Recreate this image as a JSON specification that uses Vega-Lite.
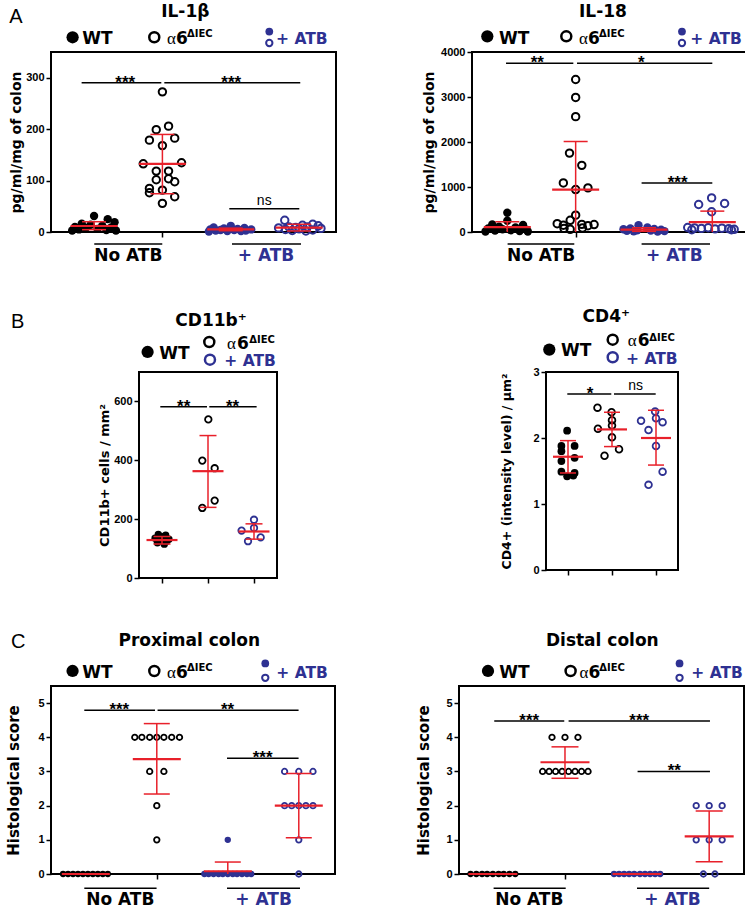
{
"$schema": "https://vega.github.io/schema/vega-lite/v6.json",
"padding": {"left": 5, "top": 2, "right": 0, "bottom": 0},
"config": {
 "font": "DejaVu Sans",
 "view": {"stroke": "black", "strokeWidth": 2},
 "axis": {"grid": false, "domain": false, "tickColor": "black", "tickWidth": 1.5, "tickSize": 5, "labelFont": "Liberation Sans", "labelFontWeight": "bold", "labelFontSize": 11, "labelColor": "black", "labelPadding": 2, "titleFont": "DejaVu Sans", "titleFontWeight": "bold", "titleColor": "black", "labelFlush": false, "labelOverlap": false, "format": "d"},
 "point": {"opacity": 1},
 "tick": {"opacity": 1},
 "style": {
  "ttl": {"font": "DejaVu Sans", "fontWeight": "bold", "fontSize": 17, "align": "center", "baseline": "alphabetic"},
  "lg": {"font": "DejaVu Sans", "fontWeight": "bold", "fontSize": 17, "align": "left", "baseline": "alphabetic"},
  "lgb": {"font": "DejaVu Sans", "fontWeight": "bold", "fontSize": 15.5, "align": "left", "baseline": "alphabetic"},
  "al": {"font": "Liberation Serif", "fontWeight": "normal", "fontSize": 17, "align": "left", "baseline": "alphabetic"},
  "sup": {"font": "DejaVu Sans", "fontWeight": "bold", "fontSize": 10, "align": "left", "baseline": "alphabetic"},
  "st": {"font": "Liberation Sans", "fontWeight": "bold", "fontSize": 17, "align": "center", "baseline": "alphabetic", "dy": 5},
  "ns": {"font": "Liberation Sans", "fontWeight": "normal", "fontSize": 14, "align": "center", "baseline": "alphabetic", "dy": -4},
  "gl": {"font": "DejaVu Sans", "fontWeight": "bold", "fontSize": 17, "align": "center", "baseline": "alphabetic"},
  "let": {"font": "Liberation Sans", "fontWeight": "normal", "fontSize": 20, "align": "left", "baseline": "alphabetic"}
 }
},
"datasets": {
 "sig": [
  {"p":"IL1b","x1":0.818,"x2":1.984,"y":290,"xm":1.457,"t":"***"},
  {"p":"IL1b","x1":2.028,"x2":4.017,"y":290,"xm":3.008,"t":"***"},
  {"p":"IL1b","x1":2.979,"x2":4.003,"y":45,"xm":3.49,"t":"ns"},
  {"p":"IL18","x1":0.981,"x2":1.966,"y":3750,"xm":1.439,"t":"**"},
  {"p":"IL18","x1":2.02,"x2":4.0,"y":3750,"xm":2.961,"t":"*"},
  {"p":"IL18","x1":2.965,"x2":4.0,"y":1090,"xm":3.492,"t":"***"},
  {"p":"CD11b","x1":0.963,"x2":1.978,"y":582,"xm":1.47,"t":"**"},
  {"p":"CD11b","x1":2.028,"x2":3.057,"y":582,"xm":2.535,"t":"**"},
  {"p":"CD4","x1":0.984,"x2":1.984,"y":2.665,"xm":1.5,"t":"*"},
  {"p":"CD4","x1":2.045,"x2":2.993,"y":2.665,"xm":2.539,"t":"ns"},
  {"p":"prox","x1":0.979,"x2":1.975,"y":4.79,"xm":1.472,"t":"***"},
  {"p":"prox","x1":2.011,"x2":3.997,"y":4.79,"xm":2.997,"t":"**"},
  {"p":"prox","x1":2.989,"x2":3.997,"y":3.385,"xm":3.49,"t":"***"},
  {"p":"dist","x1":1.019,"x2":1.99,"y":4.476,"xm":1.505,"t":"***"},
  {"p":"dist","x1":2.05,"x2":4.011,"y":4.476,"xm":3.03,"t":"***"},
  {"p":"dist","x1":3.007,"x2":4.011,"y":3.0,"xm":3.516,"t":"**"}
 ],
 "sum": [
  {"p":"IL1b","g":"WT","x":1,"m":11.7,"lo":4.5,"hi":20},
  {"p":"IL1b","g":"α6ΔIEC","x":2,"m":132.6,"lo":74.4,"hi":189.7},
  {"p":"IL1b","g":"WT+ATB","x":3,"m":5,"lo":2.5,"hi":7.5},
  {"p":"IL1b","g":"α6ΔIEC+ATB","x":4,"m":8.4,"lo":2,"hi":15},
  {"p":"IL18","g":"WT","x":1,"m":110,"lo":0,"hi":228},
  {"p":"IL18","g":"α6ΔIEC","x":2,"m":943,"lo":0,"hi":2011},
  {"p":"IL18","g":"WT+ATB","x":3,"m":55,"lo":15,"hi":95},
  {"p":"IL18","g":"α6ΔIEC+ATB","x":4,"m":221,"lo":0,"hi":464},
  {"p":"CD11b","g":"WT","x":1,"m":129,"lo":115.5,"hi":141},
  {"p":"CD11b","g":"α6ΔIEC","x":2,"m":363,"lo":240,"hi":484},
  {"p":"CD11b","g":"α6ΔIEC+ATB","x":3,"m":158,"lo":132,"hi":184},
  {"p":"CD4","g":"WT","x":1,"m":1.716,"lo":1.47,"hi":1.96},
  {"p":"CD4","g":"α6ΔIEC","x":2,"m":2.13,"lo":1.87,"hi":2.39},
  {"p":"CD4","g":"α6ΔIEC+ATB","x":3,"m":2.0,"lo":1.59,"hi":2.42},
  {"p":"prox","g":"WT","x":1,"m":0,"lo":0,"hi":0},
  {"p":"prox","g":"α6ΔIEC","x":2,"m":3.36,"lo":2.34,"hi":4.4},
  {"p":"prox","g":"WT+ATB","x":3,"m":0.08,"lo":0,"hi":0.35},
  {"p":"prox","g":"α6ΔIEC+ATB","x":4,"m":2.0,"lo":1.06,"hi":2.94},
  {"p":"dist","g":"WT","x":1,"m":0,"lo":0,"hi":0},
  {"p":"dist","g":"α6ΔIEC","x":2,"m":3.27,"lo":2.8,"hi":3.72},
  {"p":"dist","g":"WT+ATB","x":3,"m":0,"lo":0,"hi":0},
  {"p":"dist","g":"α6ΔIEC+ATB","x":4,"m":1.1,"lo":0.36,"hi":1.84}
 ],
 "pts": [
  {"p":"IL1b","g":"WT","x":1.0,"v":31},{"p":"IL1b","g":"WT","x":1.2,"v":25},{"p":"IL1b","g":"WT","x":1.3,"v":19},{"p":"IL1b","g":"WT","x":0.82,"v":16},{"p":"IL1b","g":"WT","x":0.95,"v":14},{"p":"IL1b","g":"WT","x":1.12,"v":12},{"p":"IL1b","g":"WT","x":0.72,"v":10},{"p":"IL1b","g":"WT","x":1.25,"v":9},{"p":"IL1b","g":"WT","x":0.88,"v":8},{"p":"IL1b","g":"WT","x":1.05,"v":6},{"p":"IL1b","g":"WT","x":0.78,"v":5},{"p":"IL1b","g":"WT","x":1.18,"v":4},{"p":"IL1b","g":"WT","x":0.68,"v":3},{"p":"IL1b","g":"WT","x":1.32,"v":3},
  {"p":"IL1b","g":"α6ΔIEC","x":2.0,"v":272.5},{"p":"IL1b","g":"α6ΔIEC","x":2.09,"v":205.8},{"p":"IL1b","g":"α6ΔIEC","x":1.91,"v":199},{"p":"IL1b","g":"α6ΔIEC","x":1.81,"v":178.6},{"p":"IL1b","g":"α6ΔIEC","x":2.18,"v":182.5},{"p":"IL1b","g":"α6ΔIEC","x":2.0,"v":168},{"p":"IL1b","g":"α6ΔIEC","x":1.72,"v":132.6},{"p":"IL1b","g":"α6ΔIEC","x":2.28,"v":134.6},{"p":"IL1b","g":"α6ΔIEC","x":1.91,"v":118.4},{"p":"IL1b","g":"α6ΔIEC","x":2.09,"v":118.4},{"p":"IL1b","g":"α6ΔIEC","x":1.91,"v":101.6},{"p":"IL1b","g":"α6ΔIEC","x":2.09,"v":103.5},{"p":"IL1b","g":"α6ΔIEC","x":2.18,"v":97.7},{"p":"IL1b","g":"α6ΔIEC","x":1.81,"v":84.8},{"p":"IL1b","g":"α6ΔIEC","x":1.81,"v":76.3},{"p":"IL1b","g":"α6ΔIEC","x":2.0,"v":81.5},{"p":"IL1b","g":"α6ΔIEC","x":2.18,"v":68.5},{"p":"IL1b","g":"α6ΔIEC","x":2.0,"v":55.7},
  {"p":"IL1b","g":"WT+ATB","x":3.0,"v":12},{"p":"IL1b","g":"WT+ATB","x":2.75,"v":9},{"p":"IL1b","g":"WT+ATB","x":3.2,"v":8},{"p":"IL1b","g":"WT+ATB","x":2.9,"v":7},{"p":"IL1b","g":"WT+ATB","x":3.1,"v":6},{"p":"IL1b","g":"WT+ATB","x":2.7,"v":5},{"p":"IL1b","g":"WT+ATB","x":3.3,"v":5},{"p":"IL1b","g":"WT+ATB","x":2.85,"v":4},{"p":"IL1b","g":"WT+ATB","x":3.05,"v":4},{"p":"IL1b","g":"WT+ATB","x":2.78,"v":3},{"p":"IL1b","g":"WT+ATB","x":3.22,"v":3},{"p":"IL1b","g":"WT+ATB","x":2.95,"v":2},{"p":"IL1b","g":"WT+ATB","x":3.15,"v":2},{"p":"IL1b","g":"WT+ATB","x":2.68,"v":1},
  {"p":"IL1b","g":"α6ΔIEC+ATB","x":3.79,"v":22.7},{"p":"IL1b","g":"α6ΔIEC+ATB","x":4.2,"v":15},{"p":"IL1b","g":"α6ΔIEC+ATB","x":4.05,"v":13},{"p":"IL1b","g":"α6ΔIEC+ATB","x":4.28,"v":12},{"p":"IL1b","g":"α6ΔIEC+ATB","x":3.85,"v":10},{"p":"IL1b","g":"α6ΔIEC+ATB","x":4.12,"v":10},{"p":"IL1b","g":"α6ΔIEC+ATB","x":3.95,"v":9},{"p":"IL1b","g":"α6ΔIEC+ATB","x":3.7,"v":8},{"p":"IL1b","g":"α6ΔIEC+ATB","x":4.32,"v":7},{"p":"IL1b","g":"α6ΔIEC+ATB","x":4.0,"v":6},{"p":"IL1b","g":"α6ΔIEC+ATB","x":3.8,"v":5},{"p":"IL1b","g":"α6ΔIEC+ATB","x":4.2,"v":4},{"p":"IL1b","g":"α6ΔIEC+ATB","x":3.9,"v":3},{"p":"IL1b","g":"α6ΔIEC+ATB","x":4.1,"v":2},
  {"p":"IL18","g":"WT","x":1.0,"v":427},{"p":"IL18","g":"WT","x":1.0,"v":250},{"p":"IL18","g":"WT","x":0.78,"v":170},{"p":"IL18","g":"WT","x":1.23,"v":155},{"p":"IL18","g":"WT","x":0.88,"v":120},{"p":"IL18","g":"WT","x":1.12,"v":100},{"p":"IL18","g":"WT","x":0.72,"v":80},{"p":"IL18","g":"WT","x":0.93,"v":60},{"p":"IL18","g":"WT","x":1.28,"v":50},{"p":"IL18","g":"WT","x":1.05,"v":40},{"p":"IL18","g":"WT","x":0.82,"v":30},{"p":"IL18","g":"WT","x":1.18,"v":20},{"p":"IL18","g":"WT","x":0.68,"v":10},{"p":"IL18","g":"WT","x":1.3,"v":10},
  {"p":"IL18","g":"α6ΔIEC","x":2.0,"v":3388},{"p":"IL18","g":"α6ΔIEC","x":2.0,"v":2990},{"p":"IL18","g":"α6ΔIEC","x":2.0,"v":2563},{"p":"IL18","g":"α6ΔIEC","x":1.91,"v":1753},{"p":"IL18","g":"α6ΔIEC","x":2.09,"v":1481},{"p":"IL18","g":"α6ΔIEC","x":1.82,"v":1090},{"p":"IL18","g":"α6ΔIEC","x":2.18,"v":980},{"p":"IL18","g":"α6ΔIEC","x":2.0,"v":943},{"p":"IL18","g":"α6ΔIEC","x":2.0,"v":375},{"p":"IL18","g":"α6ΔIEC","x":1.92,"v":260},{"p":"IL18","g":"α6ΔIEC","x":1.73,"v":185},{"p":"IL18","g":"α6ΔIEC","x":2.09,"v":170},{"p":"IL18","g":"α6ΔIEC","x":2.27,"v":165},{"p":"IL18","g":"α6ΔIEC","x":1.82,"v":150},{"p":"IL18","g":"α6ΔIEC","x":2.18,"v":140},{"p":"IL18","g":"α6ΔIEC","x":2.1,"v":90},{"p":"IL18","g":"α6ΔIEC","x":1.83,"v":80},{"p":"IL18","g":"α6ΔIEC","x":1.92,"v":60},
  {"p":"IL18","g":"WT+ATB","x":2.92,"v":150},{"p":"IL18","g":"WT+ATB","x":3.05,"v":100},{"p":"IL18","g":"WT+ATB","x":2.8,"v":80},{"p":"IL18","g":"WT+ATB","x":3.15,"v":70},{"p":"IL18","g":"WT+ATB","x":2.7,"v":60},{"p":"IL18","g":"WT+ATB","x":3.25,"v":50},{"p":"IL18","g":"WT+ATB","x":2.9,"v":40},{"p":"IL18","g":"WT+ATB","x":3.1,"v":30},{"p":"IL18","g":"WT+ATB","x":2.75,"v":25},{"p":"IL18","g":"WT+ATB","x":3.3,"v":20},{"p":"IL18","g":"WT+ATB","x":2.85,"v":15},{"p":"IL18","g":"WT+ATB","x":3.2,"v":10},
  {"p":"IL18","g":"α6ΔIEC+ATB","x":3.99,"v":758},{"p":"IL18","g":"α6ΔIEC+ATB","x":3.8,"v":612},{"p":"IL18","g":"α6ΔIEC+ATB","x":4.18,"v":634},{"p":"IL18","g":"α6ΔIEC+ATB","x":3.99,"v":449},{"p":"IL18","g":"α6ΔIEC+ATB","x":3.64,"v":100},{"p":"IL18","g":"α6ΔIEC+ATB","x":3.74,"v":90},{"p":"IL18","g":"α6ΔIEC+ATB","x":3.84,"v":80},{"p":"IL18","g":"α6ΔIEC+ATB","x":3.94,"v":95},{"p":"IL18","g":"α6ΔIEC+ATB","x":4.04,"v":70},{"p":"IL18","g":"α6ΔIEC+ATB","x":4.14,"v":85},{"p":"IL18","g":"α6ΔIEC+ATB","x":4.24,"v":75},{"p":"IL18","g":"α6ΔIEC+ATB","x":4.32,"v":60},{"p":"IL18","g":"α6ΔIEC+ATB","x":3.7,"v":50},{"p":"IL18","g":"α6ΔIEC+ATB","x":4.28,"v":50},
  {"p":"CD11b","g":"WT","x":0.92,"v":148},{"p":"CD11b","g":"WT","x":1.08,"v":145},{"p":"CD11b","g":"WT","x":1.0,"v":140},{"p":"CD11b","g":"WT","x":0.85,"v":135},{"p":"CD11b","g":"WT","x":1.15,"v":132},{"p":"CD11b","g":"WT","x":0.95,"v":128},{"p":"CD11b","g":"WT","x":1.1,"v":125},{"p":"CD11b","g":"WT","x":0.9,"v":120},{"p":"CD11b","g":"WT","x":1.05,"v":115},
  {"p":"CD11b","g":"α6ΔIEC","x":2.007,"v":539},{"p":"CD11b","g":"α6ΔIEC","x":1.876,"v":399},{"p":"CD11b","g":"α6ΔIEC","x":2.145,"v":373},{"p":"CD11b","g":"α6ΔIEC","x":2.145,"v":263},{"p":"CD11b","g":"α6ΔIEC","x":1.876,"v":238},
  {"p":"CD11b","g":"α6ΔIEC+ATB","x":3.0,"v":198},{"p":"CD11b","g":"α6ΔIEC+ATB","x":3.0,"v":170},{"p":"CD11b","g":"α6ΔIEC+ATB","x":2.73,"v":161},{"p":"CD11b","g":"α6ΔIEC+ATB","x":3.145,"v":138},{"p":"CD11b","g":"α6ΔIEC+ATB","x":2.87,"v":125},
  {"p":"CD4","g":"WT","x":0.98,"v":2.11},{"p":"CD4","g":"WT","x":0.85,"v":1.88},{"p":"CD4","g":"WT","x":1.15,"v":1.88},{"p":"CD4","g":"WT","x":0.85,"v":1.8},{"p":"CD4","g":"WT","x":1.15,"v":1.7},{"p":"CD4","g":"WT","x":0.85,"v":1.65},{"p":"CD4","g":"WT","x":0.85,"v":1.49},{"p":"CD4","g":"WT","x":1.15,"v":1.47},{"p":"CD4","g":"WT","x":0.98,"v":1.42},{"p":"CD4","g":"WT","x":1.12,"v":1.43},
  {"p":"CD4","g":"α6ΔIEC","x":1.67,"v":2.46},{"p":"CD4","g":"α6ΔIEC","x":1.68,"v":2.14},{"p":"CD4","g":"α6ΔIEC","x":1.99,"v":2.39},{"p":"CD4","g":"α6ΔIEC","x":2.0,"v":2.27},{"p":"CD4","g":"α6ΔIEC","x":2.0,"v":2.19},{"p":"CD4","g":"α6ΔIEC","x":2.0,"v":2.01},{"p":"CD4","g":"α6ΔIEC","x":2.16,"v":1.83},{"p":"CD4","g":"α6ΔIEC","x":1.83,"v":1.73},
  {"p":"CD4","g":"α6ΔIEC+ATB","x":2.98,"v":2.4},{"p":"CD4","g":"α6ΔIEC+ATB","x":2.66,"v":2.26},{"p":"CD4","g":"α6ΔIEC+ATB","x":3.15,"v":2.24},{"p":"CD4","g":"α6ΔIEC+ATB","x":2.83,"v":2.12},{"p":"CD4","g":"α6ΔIEC+ATB","x":3.0,"v":2.3},{"p":"CD4","g":"α6ΔIEC+ATB","x":3.0,"v":1.88},{"p":"CD4","g":"α6ΔIEC+ATB","x":3.15,"v":1.49},{"p":"CD4","g":"α6ΔIEC+ATB","x":2.83,"v":1.29},
  {"p":"prox","g":"WT","x":0.68,"v":0},{"p":"prox","g":"WT","x":0.75,"v":0},{"p":"prox","g":"WT","x":0.82,"v":0},{"p":"prox","g":"WT","x":0.89,"v":0},{"p":"prox","g":"WT","x":0.96,"v":0},{"p":"prox","g":"WT","x":1.03,"v":0},{"p":"prox","g":"WT","x":1.1,"v":0},{"p":"prox","g":"WT","x":1.17,"v":0},{"p":"prox","g":"WT","x":1.24,"v":0},{"p":"prox","g":"WT","x":1.31,"v":0},
  {"p":"prox","g":"α6ΔIEC","x":1.69,"v":4},{"p":"prox","g":"α6ΔIEC","x":1.79,"v":4},{"p":"prox","g":"α6ΔIEC","x":1.9,"v":4},{"p":"prox","g":"α6ΔIEC","x":2.0,"v":4},{"p":"prox","g":"α6ΔIEC","x":2.1,"v":4},{"p":"prox","g":"α6ΔIEC","x":2.21,"v":4},{"p":"prox","g":"α6ΔIEC","x":2.32,"v":4},{"p":"prox","g":"α6ΔIEC","x":1.9,"v":3},{"p":"prox","g":"α6ΔIEC","x":2.1,"v":3},{"p":"prox","g":"α6ΔIEC","x":2.0,"v":2},{"p":"prox","g":"α6ΔIEC","x":2.0,"v":1},
  {"p":"prox","g":"WT+ATB","x":2.67,"v":0},{"p":"prox","g":"WT+ATB","x":2.73,"v":0},{"p":"prox","g":"WT+ATB","x":2.8,"v":0},{"p":"prox","g":"WT+ATB","x":2.87,"v":0},{"p":"prox","g":"WT+ATB","x":2.93,"v":0},{"p":"prox","g":"WT+ATB","x":3.0,"v":0},{"p":"prox","g":"WT+ATB","x":3.07,"v":0},{"p":"prox","g":"WT+ATB","x":3.13,"v":0},{"p":"prox","g":"WT+ATB","x":3.2,"v":0},{"p":"prox","g":"WT+ATB","x":3.27,"v":0},{"p":"prox","g":"WT+ATB","x":3.33,"v":0},{"p":"prox","g":"WT+ATB","x":3.0,"v":1},
  {"p":"prox","g":"α6ΔIEC+ATB","x":3.8,"v":3},{"p":"prox","g":"α6ΔIEC+ATB","x":4.0,"v":3},{"p":"prox","g":"α6ΔIEC+ATB","x":4.2,"v":3},{"p":"prox","g":"α6ΔIEC+ATB","x":3.8,"v":2},{"p":"prox","g":"α6ΔIEC+ATB","x":3.9,"v":2},{"p":"prox","g":"α6ΔIEC+ATB","x":4.0,"v":2},{"p":"prox","g":"α6ΔIEC+ATB","x":4.1,"v":2},{"p":"prox","g":"α6ΔIEC+ATB","x":4.2,"v":2},{"p":"prox","g":"α6ΔIEC+ATB","x":4.0,"v":1},{"p":"prox","g":"α6ΔIEC+ATB","x":4.0,"v":0},
  {"p":"dist","g":"WT","x":0.69,"v":0},{"p":"dist","g":"WT","x":0.77,"v":0},{"p":"dist","g":"WT","x":0.85,"v":0},{"p":"dist","g":"WT","x":0.92,"v":0},{"p":"dist","g":"WT","x":1.0,"v":0},{"p":"dist","g":"WT","x":1.08,"v":0},{"p":"dist","g":"WT","x":1.15,"v":0},{"p":"dist","g":"WT","x":1.23,"v":0},{"p":"dist","g":"WT","x":1.31,"v":0},
  {"p":"dist","g":"α6ΔIEC","x":1.82,"v":4},{"p":"dist","g":"α6ΔIEC","x":2.0,"v":4},{"p":"dist","g":"α6ΔIEC","x":2.18,"v":4},{"p":"dist","g":"α6ΔIEC","x":1.69,"v":3},{"p":"dist","g":"α6ΔIEC","x":1.78,"v":3},{"p":"dist","g":"α6ΔIEC","x":1.87,"v":3},{"p":"dist","g":"α6ΔIEC","x":1.96,"v":3},{"p":"dist","g":"α6ΔIEC","x":2.05,"v":3},{"p":"dist","g":"α6ΔIEC","x":2.14,"v":3},{"p":"dist","g":"α6ΔIEC","x":2.23,"v":3},{"p":"dist","g":"α6ΔIEC","x":2.32,"v":3},
  {"p":"dist","g":"WT+ATB","x":2.68,"v":0},{"p":"dist","g":"WT+ATB","x":2.75,"v":0},{"p":"dist","g":"WT+ATB","x":2.82,"v":0},{"p":"dist","g":"WT+ATB","x":2.89,"v":0},{"p":"dist","g":"WT+ATB","x":2.96,"v":0},{"p":"dist","g":"WT+ATB","x":3.04,"v":0},{"p":"dist","g":"WT+ATB","x":3.11,"v":0},{"p":"dist","g":"WT+ATB","x":3.18,"v":0},{"p":"dist","g":"WT+ATB","x":3.25,"v":0},{"p":"dist","g":"WT+ATB","x":3.32,"v":0},
  {"p":"dist","g":"α6ΔIEC+ATB","x":3.82,"v":2},{"p":"dist","g":"α6ΔIEC+ATB","x":4.0,"v":2},{"p":"dist","g":"α6ΔIEC+ATB","x":4.18,"v":2},{"p":"dist","g":"α6ΔIEC+ATB","x":3.82,"v":1},{"p":"dist","g":"α6ΔIEC+ATB","x":4.0,"v":1},{"p":"dist","g":"α6ΔIEC+ATB","x":4.18,"v":1},{"p":"dist","g":"α6ΔIEC+ATB","x":3.92,"v":0},{"p":"dist","g":"α6ΔIEC+ATB","x":4.08,"v":0}
 ]
},
"spacing": 40,
"vconcat": [
 {"bounds": "flush", "spacing": 136, "hconcat": [
  {"width": 285, "height": 180, "data": {"values": [{}]},
   "layer": [
    {"data": {"name": "sig"}, "transform": [{"filter": "datum.p==='IL1b'"}], "mark": {"type": "rule", "color": "black", "strokeWidth": 1.5},
     "encoding": {"x": {"field": "x1", "type": "quantitative", "scale": {"domain": [0.37, 4.54], "nice": false, "zero": false}, "axis": {"values": [2], "labels": false, "title": null}}, "x2": {"field": "x2"},
      "y": {"field": "y", "type": "quantitative", "scale": {"domain": [0, 350], "nice": false, "zero": false}, "axis": {"values": [0, 100, 200, 300], "tickCount": 10, "title": "pg/ml/mg of colon", "titleFontSize": 14, "titlePadding": 2}}}},
    {"data": {"name": "sig"}, "transform": [{"filter": "datum.p==='IL1b'&&datum.t!=='ns'"}], "mark": {"type": "text", "style": "st"}, "encoding": {"x": {"field": "xm", "type": "quantitative"}, "y": {"field": "y", "type": "quantitative"}, "text": {"field": "t"}}},
    {"data": {"name": "sig"}, "transform": [{"filter": "datum.p==='IL1b'&&datum.t==='ns'"}], "mark": {"type": "text", "style": "ns"}, "encoding": {"x": {"field": "xm", "type": "quantitative"}, "y": {"field": "y", "type": "quantitative"}, "text": {"field": "t"}}},
    {"data": {"name": "pts"}, "transform": [{"filter": "datum.p==='IL1b'&&(datum.g==='WT'||datum.g==='WT+ATB')"}], "mark": {"type": "point", "filled": true, "size": 70, "opacity": 1},
     "encoding": {"x": {"field": "x", "type": "quantitative"}, "y": {"field": "v", "type": "quantitative"}, "color": {"field": "g", "type": "nominal", "scale": {"domain": ["WT", "α6ΔIEC", "WT+ATB", "α6ΔIEC+ATB"], "range": ["#000000", "#000000", "#2E3192", "#2E3192"]}, "legend": null}}},
    {"data": {"name": "pts"}, "transform": [{"filter": "datum.p==='IL1b'&&(datum.g==='α6ΔIEC'||datum.g==='α6ΔIEC+ATB')"}], "mark": {"type": "point", "filled": false, "size": 55, "strokeWidth": 2, "opacity": 1},
     "encoding": {"x": {"field": "x", "type": "quantitative"}, "y": {"field": "v", "type": "quantitative"}, "color": {"field": "g", "type": "nominal", "scale": {"domain": ["WT", "α6ΔIEC", "WT+ATB", "α6ΔIEC+ATB"], "range": ["#000000", "#000000", "#2E3192", "#2E3192"]}, "legend": null}}},
    {"data": {"name": "sum"}, "transform": [{"filter": "datum.p==='IL1b'"}], "mark": {"type": "rule", "color": "#E8202A", "strokeWidth": 1.5}, "encoding": {"x": {"field": "x", "type": "quantitative"}, "y": {"field": "lo", "type": "quantitative"}, "y2": {"field": "hi"}}},
    {"data": {"name": "sum"}, "transform": [{"filter": "datum.p==='IL1b'"}], "mark": {"type": "tick", "orient": "horizontal", "color": "#E8202A", "size": 24, "thickness": 1.5, "opacity": 1}, "encoding": {"x": {"field": "x", "type": "quantitative"}, "y": {"field": "hi", "type": "quantitative"}}},
    {"data": {"name": "sum"}, "transform": [{"filter": "datum.p==='IL1b'&&datum.lo>0"}], "mark": {"type": "tick", "orient": "horizontal", "color": "#E8202A", "size": 24, "thickness": 1.5, "opacity": 1}, "encoding": {"x": {"field": "x", "type": "quantitative"}, "y": {"field": "lo", "type": "quantitative"}}},
    {"data": {"name": "sum"}, "transform": [{"filter": "datum.p==='IL1b'"}], "mark": {"type": "tick", "orient": "horizontal", "color": "#E8202A", "size": 47, "thickness": 2.2, "opacity": 1}, "encoding": {"x": {"field": "x", "type": "quantitative"}, "y": {"field": "m", "type": "quantitative"}}},
    {"mark": {"type": "text", "style": "ttl", "text": "IL-1β", "color": "black"}, "encoding": {"x": {"datum": 2.335, "type": "quantitative"}, "y": {"datum": 417.5, "type": "quantitative"}}},
    {"mark": {"type": "point", "filled": true, "size": 150, "color": "black"}, "encoding": {"x": {"datum": 0.686, "type": "quantitative"}, "y": {"datum": 378.6, "type": "quantitative"}}},
    {"mark": {"type": "text", "style": "lg", "text": "WT", "color": "black"}, "encoding": {"x": {"datum": 0.828, "type": "quantitative"}, "y": {"datum": 366.4, "type": "quantitative"}}},
    {"mark": {"type": "point", "filled": false, "size": 100, "strokeWidth": 2.5, "color": "black"}, "encoding": {"x": {"datum": 1.881, "type": "quantitative"}, "y": {"datum": 378.6, "type": "quantitative"}}},
    {"mark": {"type": "text", "style": "al", "text": "α", "color": "black"}, "encoding": {"x": {"datum": 2.067, "type": "quantitative"}, "y": {"datum": 366.4, "type": "quantitative"}}},
    {"mark": {"type": "text", "style": "lg", "text": "6", "color": "black"}, "encoding": {"x": {"datum": 2.199, "type": "quantitative"}, "y": {"datum": 366.4, "type": "quantitative"}}},
    {"mark": {"type": "text", "style": "sup", "text": "ΔIEC", "color": "black"}, "encoding": {"x": {"datum": 2.36, "type": "quantitative"}, "y": {"datum": 379.5, "type": "quantitative"}}},
    {"mark": {"type": "point", "filled": true, "size": 60, "color": "#2E3192"}, "encoding": {"x": {"datum": 3.564, "type": "quantitative"}, "y": {"datum": 389.7, "type": "quantitative"}}},
    {"mark": {"type": "point", "filled": false, "size": 40, "strokeWidth": 2, "color": "#2E3192"}, "encoding": {"x": {"datum": 3.564, "type": "quantitative"}, "y": {"datum": 367.5, "type": "quantitative"}}},
    {"mark": {"type": "text", "style": "lgb", "text": "+ ATB", "color": "#2E3192"}, "encoding": {"x": {"datum": 3.662, "type": "quantitative"}, "y": {"datum": 366.4, "type": "quantitative"}}},
    {"mark": {"type": "rule", "color": "black", "strokeWidth": 1.5}, "encoding": {"x": {"datum": 1.003, "type": "quantitative"}, "x2": {"datum": 1.998}, "y": {"datum": -23.3, "type": "quantitative"}}},
    {"mark": {"type": "rule", "color": "black", "strokeWidth": 1.5}, "encoding": {"x": {"datum": 3.018, "type": "quantitative"}, "x2": {"datum": 4.028}, "y": {"datum": -23.3, "type": "quantitative"}}},
    {"mark": {"type": "text", "style": "gl", "text": "No ATB", "color": "black"}, "encoding": {"x": {"datum": 1.501, "type": "quantitative"}, "y": {"datum": -57, "type": "quantitative"}}},
    {"mark": {"type": "text", "style": "gl", "text": "+ ATB", "color": "#2E3192"}, "encoding": {"x": {"datum": 3.516, "type": "quantitative"}, "y": {"datum": -57, "type": "quantitative"}}},
    {"mark": {"type": "text", "style": "let", "text": "A", "color": "black"}, "encoding": {"x": {"datum": -0.24, "type": "quantitative"}, "y": {"datum": 405.8, "type": "quantitative"}}}
   ]},
  {"width": 274, "height": 180, "data": {"values": [{}]},
   "layer": [
    {"data": {"name": "sig"}, "transform": [{"filter": "datum.p==='IL18'"}], "mark": {"type": "rule", "color": "black", "strokeWidth": 1.5},
     "encoding": {"x": {"field": "x1", "type": "quantitative", "scale": {"domain": [0.483, 4.493], "nice": false, "zero": false}, "axis": {"values": [2], "labels": false, "title": null}}, "x2": {"field": "x2"},
      "y": {"field": "y", "type": "quantitative", "scale": {"domain": [0, 4000], "nice": false, "zero": false}, "axis": {"values": [0, 1000, 2000, 3000, 4000], "tickCount": 10, "title": "pg/ml/mg of colon", "titleFontSize": 14, "titlePadding": 4}}}},
    {"data": {"name": "sig"}, "transform": [{"filter": "datum.p==='IL18'"}], "mark": {"type": "text", "style": "st"}, "encoding": {"x": {"field": "xm", "type": "quantitative"}, "y": {"field": "y", "type": "quantitative"}, "text": {"field": "t"}}},
    {"data": {"name": "pts"}, "transform": [{"filter": "datum.p==='IL18'&&(datum.g==='WT'||datum.g==='WT+ATB')"}], "mark": {"type": "point", "filled": true, "size": 70, "opacity": 1},
     "encoding": {"x": {"field": "x", "type": "quantitative"}, "y": {"field": "v", "type": "quantitative"}, "color": {"field": "g", "type": "nominal", "scale": {"domain": ["WT", "α6ΔIEC", "WT+ATB", "α6ΔIEC+ATB"], "range": ["#000000", "#000000", "#2E3192", "#2E3192"]}, "legend": null}}},
    {"data": {"name": "pts"}, "transform": [{"filter": "datum.p==='IL18'&&(datum.g==='α6ΔIEC'||datum.g==='α6ΔIEC+ATB')"}], "mark": {"type": "point", "filled": false, "size": 55, "strokeWidth": 2, "opacity": 1},
     "encoding": {"x": {"field": "x", "type": "quantitative"}, "y": {"field": "v", "type": "quantitative"}, "color": {"field": "g", "type": "nominal", "scale": {"domain": ["WT", "α6ΔIEC", "WT+ATB", "α6ΔIEC+ATB"], "range": ["#000000", "#000000", "#2E3192", "#2E3192"]}, "legend": null}}},
    {"data": {"name": "sum"}, "transform": [{"filter": "datum.p==='IL18'"}], "mark": {"type": "rule", "color": "#E8202A", "strokeWidth": 1.5}, "encoding": {"x": {"field": "x", "type": "quantitative"}, "y": {"field": "lo", "type": "quantitative"}, "y2": {"field": "hi"}}},
    {"data": {"name": "sum"}, "transform": [{"filter": "datum.p==='IL18'"}], "mark": {"type": "tick", "orient": "horizontal", "color": "#E8202A", "size": 24, "thickness": 1.5, "opacity": 1}, "encoding": {"x": {"field": "x", "type": "quantitative"}, "y": {"field": "hi", "type": "quantitative"}}},
    {"data": {"name": "sum"}, "transform": [{"filter": "datum.p==='IL18'&&datum.lo>0"}], "mark": {"type": "tick", "orient": "horizontal", "color": "#E8202A", "size": 24, "thickness": 1.5, "opacity": 1}, "encoding": {"x": {"field": "x", "type": "quantitative"}, "y": {"field": "lo", "type": "quantitative"}}},
    {"data": {"name": "sum"}, "transform": [{"filter": "datum.p==='IL18'"}], "mark": {"type": "tick", "orient": "horizontal", "color": "#E8202A", "size": 47, "thickness": 2.2, "opacity": 1}, "encoding": {"x": {"field": "x", "type": "quantitative"}, "y": {"field": "m", "type": "quantitative"}}},
    {"mark": {"type": "text", "style": "ttl", "text": "IL-18", "color": "black"}, "encoding": {"x": {"datum": 2.4, "type": "quantitative"}, "y": {"datum": 4771, "type": "quantitative"}}},
    {"mark": {"type": "point", "filled": true, "size": 150, "color": "black"}, "encoding": {"x": {"datum": 0.707, "type": "quantitative"}, "y": {"datum": 4349, "type": "quantitative"}}},
    {"mark": {"type": "text", "style": "lg", "text": "WT", "color": "black"}, "encoding": {"x": {"datum": 0.878, "type": "quantitative"}, "y": {"datum": 4187, "type": "quantitative"}}},
    {"mark": {"type": "point", "filled": false, "size": 100, "strokeWidth": 2.5, "color": "black"}, "encoding": {"x": {"datum": 1.863, "type": "quantitative"}, "y": {"datum": 4349, "type": "quantitative"}}},
    {"mark": {"type": "text", "style": "al", "text": "α", "color": "black"}, "encoding": {"x": {"datum": 2.049, "type": "quantitative"}, "y": {"datum": 4187, "type": "quantitative"}}},
    {"mark": {"type": "text", "style": "lg", "text": "6", "color": "black"}, "encoding": {"x": {"datum": 2.181, "type": "quantitative"}, "y": {"datum": 4187, "type": "quantitative"}}},
    {"mark": {"type": "text", "style": "sup", "text": "ΔIEC", "color": "black"}, "encoding": {"x": {"datum": 2.342, "type": "quantitative"}, "y": {"datum": 4338, "type": "quantitative"}}},
    {"mark": {"type": "point", "filled": true, "size": 60, "color": "#2E3192"}, "encoding": {"x": {"datum": 3.556, "type": "quantitative"}, "y": {"datum": 4453, "type": "quantitative"}}},
    {"mark": {"type": "point", "filled": false, "size": 40, "strokeWidth": 2, "color": "#2E3192"}, "encoding": {"x": {"datum": 3.556, "type": "quantitative"}, "y": {"datum": 4200, "type": "quantitative"}}},
    {"mark": {"type": "text", "style": "lgb", "text": "+ ATB", "color": "#2E3192"}, "encoding": {"x": {"datum": 3.678, "type": "quantitative"}, "y": {"datum": 4187, "type": "quantitative"}}},
    {"mark": {"type": "rule", "color": "black", "strokeWidth": 1.5}, "encoding": {"x": {"datum": 1.004, "type": "quantitative"}, "x2": {"datum": 1.98}, "y": {"datum": -267, "type": "quantitative"}}},
    {"mark": {"type": "rule", "color": "black", "strokeWidth": 1.5}, "encoding": {"x": {"datum": 2.965, "type": "quantitative"}, "x2": {"datum": 3.966}, "y": {"datum": -267, "type": "quantitative"}}},
    {"mark": {"type": "text", "style": "gl", "text": "No ATB", "color": "black"}, "encoding": {"x": {"datum": 1.493, "type": "quantitative"}, "y": {"datum": -651, "type": "quantitative"}}},
    {"mark": {"type": "text", "style": "gl", "text": "+ ATB", "color": "#2E3192"}, "encoding": {"x": {"datum": 3.444, "type": "quantitative"}, "y": {"datum": -651, "type": "quantitative"}}}
   ]}
 ]},
 {"bounds": "flush", "spacing": 0, "hconcat": [
  {"width": 88, "height": 218, "data": {"values": []}, "mark": "point", "view": {"stroke": null}},
  {"width": 138, "height": 206, "data": {"values": [{}]},
   "layer": [
    {"data": {"name": "sig"}, "transform": [{"filter": "datum.p==='CD11b'"}], "mark": {"type": "rule", "color": "black", "strokeWidth": 1.5},
     "encoding": {"x": {"field": "x1", "type": "quantitative", "scale": {"domain": [0.5, 3.5], "nice": false, "zero": false}, "axis": {"values": [1, 2, 3], "labels": false, "title": null}}, "x2": {"field": "x2"},
      "y": {"field": "y", "type": "quantitative", "scale": {"domain": [0, 700], "nice": false, "zero": false}, "axis": {"values": [0, 200, 400, 600], "tickCount": 10, "title": "CD11b+ cells / mm²", "titleFontSize": 13, "titlePadding": 2.6}}}},
    {"data": {"name": "sig"}, "transform": [{"filter": "datum.p==='CD11b'"}], "mark": {"type": "text", "style": "st"}, "encoding": {"x": {"field": "xm", "type": "quantitative"}, "y": {"field": "y", "type": "quantitative"}, "text": {"field": "t"}}},
    {"data": {"name": "pts"}, "transform": [{"filter": "datum.p==='CD11b'&&(datum.g==='WT'||datum.g==='WT+ATB')"}], "mark": {"type": "point", "filled": true, "size": 55, "opacity": 1},
     "encoding": {"x": {"field": "x", "type": "quantitative"}, "y": {"field": "v", "type": "quantitative"}, "color": {"field": "g", "type": "nominal", "scale": {"domain": ["WT", "α6ΔIEC", "WT+ATB", "α6ΔIEC+ATB"], "range": ["#000000", "#000000", "#2E3192", "#2E3192"]}, "legend": null}}},
    {"data": {"name": "pts"}, "transform": [{"filter": "datum.p==='CD11b'&&(datum.g==='α6ΔIEC'||datum.g==='α6ΔIEC+ATB')"}], "mark": {"type": "point", "filled": false, "size": 42, "strokeWidth": 1.8, "opacity": 1},
     "encoding": {"x": {"field": "x", "type": "quantitative"}, "y": {"field": "v", "type": "quantitative"}, "color": {"field": "g", "type": "nominal", "scale": {"domain": ["WT", "α6ΔIEC", "WT+ATB", "α6ΔIEC+ATB"], "range": ["#000000", "#000000", "#2E3192", "#2E3192"]}, "legend": null}}},
    {"data": {"name": "sum"}, "transform": [{"filter": "datum.p==='CD11b'"}], "mark": {"type": "rule", "color": "#E8202A", "strokeWidth": 1.5}, "encoding": {"x": {"field": "x", "type": "quantitative"}, "y": {"field": "lo", "type": "quantitative"}, "y2": {"field": "hi"}}},
    {"data": {"name": "sum"}, "transform": [{"filter": "datum.p==='CD11b'"}], "mark": {"type": "tick", "orient": "horizontal", "color": "#E8202A", "size": 17, "thickness": 1.5, "opacity": 1}, "encoding": {"x": {"field": "x", "type": "quantitative"}, "y": {"field": "hi", "type": "quantitative"}}},
    {"data": {"name": "sum"}, "transform": [{"filter": "datum.p==='CD11b'"}], "mark": {"type": "tick", "orient": "horizontal", "color": "#E8202A", "size": 17, "thickness": 1.5, "opacity": 1}, "encoding": {"x": {"field": "x", "type": "quantitative"}, "y": {"field": "lo", "type": "quantitative"}}},
    {"data": {"name": "sum"}, "transform": [{"filter": "datum.p==='CD11b'"}], "mark": {"type": "tick", "orient": "horizontal", "color": "#E8202A", "size": 31, "thickness": 2.2, "opacity": 1}, "encoding": {"x": {"field": "x", "type": "quantitative"}, "y": {"field": "m", "type": "quantitative"}}},
    {"mark": {"type": "text", "style": "ttl", "text": "CD11b⁺", "color": "black"}, "encoding": {"x": {"datum": 2.065, "type": "quantitative"}, "y": {"datum": 857, "type": "quantitative"}}},
    {"mark": {"type": "point", "filled": true, "size": 150, "color": "black"}, "encoding": {"x": {"datum": 0.687, "type": "quantitative"}, "y": {"datum": 768, "type": "quantitative"}}},
    {"mark": {"type": "text", "style": "lg", "text": "WT", "color": "black"}, "encoding": {"x": {"datum": 0.941, "type": "quantitative"}, "y": {"datum": 745.5, "type": "quantitative"}}},
    {"mark": {"type": "point", "filled": false, "size": 100, "strokeWidth": 2.5, "color": "black"}, "encoding": {"x": {"datum": 2.028, "type": "quantitative"}, "y": {"datum": 802, "type": "quantitative"}}},
    {"mark": {"type": "text", "style": "al", "text": "α", "color": "black"}, "encoding": {"x": {"datum": 2.413, "type": "quantitative"}, "y": {"datum": 779.5, "type": "quantitative"}}},
    {"mark": {"type": "text", "style": "lg", "text": "6", "color": "black"}, "encoding": {"x": {"datum": 2.63, "type": "quantitative"}, "y": {"datum": 779.5, "type": "quantitative"}}},
    {"mark": {"type": "text", "style": "sup", "text": "ΔIEC", "color": "black"}, "encoding": {"x": {"datum": 2.898, "type": "quantitative"}, "y": {"datum": 798.5, "type": "quantitative"}}},
    {"mark": {"type": "point", "filled": false, "size": 100, "strokeWidth": 2.5, "color": "#2E3192"}, "encoding": {"x": {"datum": 2.043, "type": "quantitative"}, "y": {"datum": 742, "type": "quantitative"}}},
    {"mark": {"type": "text", "style": "lgb", "text": "+ ATB", "color": "#2E3192"}, "encoding": {"x": {"datum": 2.354, "type": "quantitative"}, "y": {"datum": 719, "type": "quantitative"}}},
    {"mark": {"type": "text", "style": "let", "text": "B", "color": "black"}, "encoding": {"x": {"datum": -2.283, "type": "quantitative"}, "y": {"datum": 851, "type": "quantitative"}}}
   ]},
  {"width": 269, "height": 218, "data": {"values": []}, "mark": "point", "view": {"stroke": null}},
  {"width": 132, "height": 198, "data": {"values": [{}]},
   "layer": [
    {"data": {"name": "sig"}, "transform": [{"filter": "datum.p==='CD4'"}], "mark": {"type": "rule", "color": "black", "strokeWidth": 1.5},
     "encoding": {"x": {"field": "x1", "type": "quantitative", "scale": {"domain": [0.5, 3.5], "nice": false, "zero": false}, "axis": {"values": [1, 2, 3], "labels": false, "title": null}}, "x2": {"field": "x2"},
      "y": {"field": "y", "type": "quantitative", "scale": {"domain": [0, 3], "nice": false, "zero": false}, "axis": {"values": [0, 1, 2, 3], "tickCount": 10, "title": "CD4+ (intensity level) / µm²", "titleFontSize": 12.5, "titlePadding": 19}}}},
    {"data": {"name": "sig"}, "transform": [{"filter": "datum.p==='CD4'&&datum.t!=='ns'"}], "mark": {"type": "text", "style": "st"}, "encoding": {"x": {"field": "xm", "type": "quantitative"}, "y": {"field": "y", "type": "quantitative"}, "text": {"field": "t"}}},
    {"data": {"name": "sig"}, "transform": [{"filter": "datum.p==='CD4'&&datum.t==='ns'"}], "mark": {"type": "text", "style": "ns"}, "encoding": {"x": {"field": "xm", "type": "quantitative"}, "y": {"field": "y", "type": "quantitative"}, "text": {"field": "t"}}},
    {"data": {"name": "pts"}, "transform": [{"filter": "datum.p==='CD4'&&(datum.g==='WT'||datum.g==='WT+ATB')"}], "mark": {"type": "point", "filled": true, "size": 60, "opacity": 1},
     "encoding": {"x": {"field": "x", "type": "quantitative"}, "y": {"field": "v", "type": "quantitative"}, "color": {"field": "g", "type": "nominal", "scale": {"domain": ["WT", "α6ΔIEC", "WT+ATB", "α6ΔIEC+ATB"], "range": ["#000000", "#000000", "#2E3192", "#2E3192"]}, "legend": null}}},
    {"data": {"name": "pts"}, "transform": [{"filter": "datum.p==='CD4'&&(datum.g==='α6ΔIEC'||datum.g==='α6ΔIEC+ATB')"}], "mark": {"type": "point", "filled": false, "size": 45, "strokeWidth": 1.8, "opacity": 1},
     "encoding": {"x": {"field": "x", "type": "quantitative"}, "y": {"field": "v", "type": "quantitative"}, "color": {"field": "g", "type": "nominal", "scale": {"domain": ["WT", "α6ΔIEC", "WT+ATB", "α6ΔIEC+ATB"], "range": ["#000000", "#000000", "#2E3192", "#2E3192"]}, "legend": null}}},
    {"data": {"name": "sum"}, "transform": [{"filter": "datum.p==='CD4'"}], "mark": {"type": "rule", "color": "#E8202A", "strokeWidth": 1.5}, "encoding": {"x": {"field": "x", "type": "quantitative"}, "y": {"field": "lo", "type": "quantitative"}, "y2": {"field": "hi"}}},
    {"data": {"name": "sum"}, "transform": [{"filter": "datum.p==='CD4'"}], "mark": {"type": "tick", "orient": "horizontal", "color": "#E8202A", "size": 16, "thickness": 1.5, "opacity": 1}, "encoding": {"x": {"field": "x", "type": "quantitative"}, "y": {"field": "hi", "type": "quantitative"}}},
    {"data": {"name": "sum"}, "transform": [{"filter": "datum.p==='CD4'"}], "mark": {"type": "tick", "orient": "horizontal", "color": "#E8202A", "size": 16, "thickness": 1.5, "opacity": 1}, "encoding": {"x": {"field": "x", "type": "quantitative"}, "y": {"field": "lo", "type": "quantitative"}}},
    {"data": {"name": "sum"}, "transform": [{"filter": "datum.p==='CD4'"}], "mark": {"type": "tick", "orient": "horizontal", "color": "#E8202A", "size": 30, "thickness": 2.2, "opacity": 1}, "encoding": {"x": {"field": "x", "type": "quantitative"}, "y": {"field": "m", "type": "quantitative"}}},
    {"mark": {"type": "text", "style": "ttl", "text": "CD4⁺", "color": "black"}, "encoding": {"x": {"datum": 1.87, "type": "quantitative"}, "y": {"datum": 3.765, "type": "quantitative"}}},
    {"mark": {"type": "point", "filled": true, "size": 150, "color": "black"}, "encoding": {"x": {"datum": 0.575, "type": "quantitative"}, "y": {"datum": 3.34, "type": "quantitative"}}},
    {"mark": {"type": "text", "style": "lg", "text": "WT", "color": "black"}, "encoding": {"x": {"datum": 0.841, "type": "quantitative"}, "y": {"datum": 3.24, "type": "quantitative"}}},
    {"mark": {"type": "point", "filled": false, "size": 100, "strokeWidth": 2.5, "color": "black"}, "encoding": {"x": {"datum": 2.016, "type": "quantitative"}, "y": {"datum": 3.49, "type": "quantitative"}}},
    {"mark": {"type": "text", "style": "al", "text": "α", "color": "black"}, "encoding": {"x": {"datum": 2.357, "type": "quantitative"}, "y": {"datum": 3.39, "type": "quantitative"}}},
    {"mark": {"type": "text", "style": "lg", "text": "6", "color": "black"}, "encoding": {"x": {"datum": 2.584, "type": "quantitative"}, "y": {"datum": 3.39, "type": "quantitative"}}},
    {"mark": {"type": "text", "style": "sup", "text": "ΔIEC", "color": "black"}, "encoding": {"x": {"datum": 2.848, "type": "quantitative"}, "y": {"datum": 3.476, "type": "quantitative"}}},
    {"mark": {"type": "point", "filled": false, "size": 100, "strokeWidth": 2.5, "color": "#2E3192"}, "encoding": {"x": {"datum": 2.016, "type": "quantitative"}, "y": {"datum": 3.224, "type": "quantitative"}}},
    {"mark": {"type": "text", "style": "lgb", "text": "+ ATB", "color": "#2E3192"}, "encoding": {"x": {"datum": 2.318, "type": "quantitative"}, "y": {"datum": 3.12, "type": "quantitative"}}}
   ]}
 ]},
 {"bounds": "flush", "spacing": 124, "hconcat": [
  {"width": 284, "height": 188, "data": {"values": [{}]},
   "layer": [
    {"data": {"name": "sig"}, "transform": [{"filter": "datum.p==='prox'"}], "mark": {"type": "rule", "color": "black", "strokeWidth": 1.5},
     "encoding": {"x": {"field": "x1", "type": "quantitative", "scale": {"domain": [0.51, 4.51], "nice": false, "zero": false}, "axis": {"values": [2], "labels": false, "title": null}}, "x2": {"field": "x2"},
      "y": {"field": "y", "type": "quantitative", "scale": {"domain": [0, 5.5], "nice": false, "zero": false}, "axis": {"values": [0, 1, 2, 3, 4, 5], "tickCount": 10, "title": "Histological score", "titleFontSize": 15, "titlePadding": 16}}}},
    {"data": {"name": "sig"}, "transform": [{"filter": "datum.p==='prox'"}], "mark": {"type": "text", "style": "st"}, "encoding": {"x": {"field": "xm", "type": "quantitative"}, "y": {"field": "y", "type": "quantitative"}, "text": {"field": "t"}}},
    {"data": {"name": "pts"}, "transform": [{"filter": "datum.p==='prox'&&(datum.g==='WT'||datum.g==='WT+ATB')"}], "mark": {"type": "point", "filled": true, "size": 40, "opacity": 1},
     "encoding": {"x": {"field": "x", "type": "quantitative"}, "y": {"field": "v", "type": "quantitative"}, "color": {"field": "g", "type": "nominal", "scale": {"domain": ["WT", "α6ΔIEC", "WT+ATB", "α6ΔIEC+ATB"], "range": ["#000000", "#000000", "#2E3192", "#2E3192"]}, "legend": null}}},
    {"data": {"name": "pts"}, "transform": [{"filter": "datum.p==='prox'&&(datum.g==='α6ΔIEC'||datum.g==='α6ΔIEC+ATB')"}], "mark": {"type": "point", "filled": false, "size": 30, "strokeWidth": 1.8, "opacity": 1},
     "encoding": {"x": {"field": "x", "type": "quantitative"}, "y": {"field": "v", "type": "quantitative"}, "color": {"field": "g", "type": "nominal", "scale": {"domain": ["WT", "α6ΔIEC", "WT+ATB", "α6ΔIEC+ATB"], "range": ["#000000", "#000000", "#2E3192", "#2E3192"]}, "legend": null}}},
    {"data": {"name": "sum"}, "transform": [{"filter": "datum.p==='prox'"}], "mark": {"type": "rule", "color": "#E8202A", "strokeWidth": 1.5}, "encoding": {"x": {"field": "x", "type": "quantitative"}, "y": {"field": "lo", "type": "quantitative"}, "y2": {"field": "hi"}}},
    {"data": {"name": "sum"}, "transform": [{"filter": "datum.p==='prox'"}], "mark": {"type": "tick", "orient": "horizontal", "color": "#E8202A", "size": 26, "thickness": 1.5, "opacity": 1}, "encoding": {"x": {"field": "x", "type": "quantitative"}, "y": {"field": "hi", "type": "quantitative"}}},
    {"data": {"name": "sum"}, "transform": [{"filter": "datum.p==='prox'&&datum.lo>0"}], "mark": {"type": "tick", "orient": "horizontal", "color": "#E8202A", "size": 26, "thickness": 1.5, "opacity": 1}, "encoding": {"x": {"field": "x", "type": "quantitative"}, "y": {"field": "lo", "type": "quantitative"}}},
    {"data": {"name": "sum"}, "transform": [{"filter": "datum.p==='prox'"}], "mark": {"type": "tick", "orient": "horizontal", "color": "#E8202A", "size": 48, "thickness": 2.2, "opacity": 1}, "encoding": {"x": {"field": "x", "type": "quantitative"}, "y": {"field": "m", "type": "quantitative"}}},
    {"mark": {"type": "text", "style": "ttl", "text": "Proximal colon", "color": "black"}, "encoding": {"x": {"datum": 2.458, "type": "quantitative"}, "y": {"datum": 6.656, "type": "quantitative"}}},
    {"mark": {"type": "point", "filled": true, "size": 150, "color": "black"}, "encoding": {"x": {"datum": 0.814, "type": "quantitative"}, "y": {"datum": 5.94, "type": "quantitative"}}},
    {"mark": {"type": "text", "style": "lg", "text": "WT", "color": "black"}, "encoding": {"x": {"datum": 0.951, "type": "quantitative"}, "y": {"datum": 5.74, "type": "quantitative"}}},
    {"mark": {"type": "point", "filled": false, "size": 100, "strokeWidth": 2.5, "color": "black"}, "encoding": {"x": {"datum": 1.965, "type": "quantitative"}, "y": {"datum": 5.94, "type": "quantitative"}}},
    {"mark": {"type": "text", "style": "al", "text": "α", "color": "black"}, "encoding": {"x": {"datum": 2.144, "type": "quantitative"}, "y": {"datum": 5.74, "type": "quantitative"}}},
    {"mark": {"type": "text", "style": "lg", "text": "6", "color": "black"}, "encoding": {"x": {"datum": 2.271, "type": "quantitative"}, "y": {"datum": 5.74, "type": "quantitative"}}},
    {"mark": {"type": "text", "style": "sup", "text": "ΔIEC", "color": "black"}, "encoding": {"x": {"datum": 2.425, "type": "quantitative"}, "y": {"datum": 5.94, "type": "quantitative"}}},
    {"mark": {"type": "point", "filled": true, "size": 60, "color": "#2E3192"}, "encoding": {"x": {"datum": 3.528, "type": "quantitative"}, "y": {"datum": 6.16, "type": "quantitative"}}},
    {"mark": {"type": "point", "filled": false, "size": 40, "strokeWidth": 2, "color": "#2E3192"}, "encoding": {"x": {"datum": 3.528, "type": "quantitative"}, "y": {"datum": 5.74, "type": "quantitative"}}},
    {"mark": {"type": "text", "style": "lgb", "text": "+ ATB", "color": "#2E3192"}, "encoding": {"x": {"datum": 3.683, "type": "quantitative"}, "y": {"datum": 5.74, "type": "quantitative"}}},
    {"mark": {"type": "rule", "color": "black", "strokeWidth": 1.5}, "encoding": {"x": {"datum": 0.979, "type": "quantitative"}, "x2": {"datum": 1.997}, "y": {"datum": -0.418, "type": "quantitative"}}},
    {"mark": {"type": "rule", "color": "black", "strokeWidth": 1.5}, "encoding": {"x": {"datum": 2.989, "type": "quantitative"}, "x2": {"datum": 4.017}, "y": {"datum": -0.418, "type": "quantitative"}}},
    {"mark": {"type": "text", "style": "gl", "text": "No ATB", "color": "black"}, "encoding": {"x": {"datum": 1.486, "type": "quantitative"}, "y": {"datum": -0.91, "type": "quantitative"}}},
    {"mark": {"type": "text", "style": "gl", "text": "+ ATB", "color": "#2E3192"}, "encoding": {"x": {"datum": 3.504, "type": "quantitative"}, "y": {"datum": -0.91, "type": "quantitative"}}},
    {"mark": {"type": "text", "style": "let", "text": "C", "color": "black"}, "encoding": {"x": {"datum": -0.053, "type": "quantitative"}, "y": {"datum": 6.62, "type": "quantitative"}}}
   ]},
  {"width": 285, "height": 188, "data": {"values": [{}]},
   "layer": [
    {"data": {"name": "sig"}, "transform": [{"filter": "datum.p==='dist'"}], "mark": {"type": "rule", "color": "black", "strokeWidth": 1.5},
     "encoding": {"x": {"field": "x1", "type": "quantitative", "scale": {"domain": [0.53, 4.483], "nice": false, "zero": false}, "axis": {"values": [2], "labels": false, "title": null}}, "x2": {"field": "x2"},
      "y": {"field": "y", "type": "quantitative", "scale": {"domain": [0, 5.5], "nice": false, "zero": false}, "axis": {"values": [0, 1, 2, 3, 4, 5], "tickCount": 10, "title": "Histological score", "titleFontSize": 15, "titlePadding": 14}}}},
    {"data": {"name": "sig"}, "transform": [{"filter": "datum.p==='dist'"}], "mark": {"type": "text", "style": "st"}, "encoding": {"x": {"field": "xm", "type": "quantitative"}, "y": {"field": "y", "type": "quantitative"}, "text": {"field": "t"}}},
    {"data": {"name": "pts"}, "transform": [{"filter": "datum.p==='dist'&&(datum.g==='WT'||datum.g==='WT+ATB')"}], "mark": {"type": "point", "filled": true, "size": 40, "opacity": 1},
     "encoding": {"x": {"field": "x", "type": "quantitative"}, "y": {"field": "v", "type": "quantitative"}, "color": {"field": "g", "type": "nominal", "scale": {"domain": ["WT", "α6ΔIEC", "WT+ATB", "α6ΔIEC+ATB"], "range": ["#000000", "#000000", "#2E3192", "#2E3192"]}, "legend": null}}},
    {"data": {"name": "pts"}, "transform": [{"filter": "datum.p==='dist'&&(datum.g==='α6ΔIEC'||datum.g==='α6ΔIEC+ATB')"}], "mark": {"type": "point", "filled": false, "size": 30, "strokeWidth": 1.8, "opacity": 1},
     "encoding": {"x": {"field": "x", "type": "quantitative"}, "y": {"field": "v", "type": "quantitative"}, "color": {"field": "g", "type": "nominal", "scale": {"domain": ["WT", "α6ΔIEC", "WT+ATB", "α6ΔIEC+ATB"], "range": ["#000000", "#000000", "#2E3192", "#2E3192"]}, "legend": null}}},
    {"data": {"name": "sum"}, "transform": [{"filter": "datum.p==='dist'"}], "mark": {"type": "rule", "color": "#E8202A", "strokeWidth": 1.5}, "encoding": {"x": {"field": "x", "type": "quantitative"}, "y": {"field": "lo", "type": "quantitative"}, "y2": {"field": "hi"}}},
    {"data": {"name": "sum"}, "transform": [{"filter": "datum.p==='dist'"}], "mark": {"type": "tick", "orient": "horizontal", "color": "#E8202A", "size": 27, "thickness": 1.5, "opacity": 1}, "encoding": {"x": {"field": "x", "type": "quantitative"}, "y": {"field": "hi", "type": "quantitative"}}},
    {"data": {"name": "sum"}, "transform": [{"filter": "datum.p==='dist'&&datum.lo>0"}], "mark": {"type": "tick", "orient": "horizontal", "color": "#E8202A", "size": 27, "thickness": 1.5, "opacity": 1}, "encoding": {"x": {"field": "x", "type": "quantitative"}, "y": {"field": "lo", "type": "quantitative"}}},
    {"data": {"name": "sum"}, "transform": [{"filter": "datum.p==='dist'"}], "mark": {"type": "tick", "orient": "horizontal", "color": "#E8202A", "size": 49, "thickness": 2.2, "opacity": 1}, "encoding": {"x": {"field": "x", "type": "quantitative"}, "y": {"field": "m", "type": "quantitative"}}},
    {"mark": {"type": "text", "style": "ttl", "text": "Distal colon", "color": "black"}, "encoding": {"x": {"datum": 2.518, "type": "quantitative"}, "y": {"datum": 6.656, "type": "quantitative"}}},
    {"mark": {"type": "point", "filled": true, "size": 150, "color": "black"}, "encoding": {"x": {"datum": 0.932, "type": "quantitative"}, "y": {"datum": 5.94, "type": "quantitative"}}},
    {"mark": {"type": "text", "style": "lg", "text": "WT", "color": "black"}, "encoding": {"x": {"datum": 1.089, "type": "quantitative"}, "y": {"datum": 5.74, "type": "quantitative"}}},
    {"mark": {"type": "point", "filled": false, "size": 100, "strokeWidth": 2.5, "color": "black"}, "encoding": {"x": {"datum": 2.078, "type": "quantitative"}, "y": {"datum": 5.94, "type": "quantitative"}}},
    {"mark": {"type": "text", "style": "al", "text": "α", "color": "black"}, "encoding": {"x": {"datum": 2.2, "type": "quantitative"}, "y": {"datum": 5.74, "type": "quantitative"}}},
    {"mark": {"type": "text", "style": "lg", "text": "6", "color": "black"}, "encoding": {"x": {"datum": 2.327, "type": "quantitative"}, "y": {"datum": 5.74, "type": "quantitative"}}},
    {"mark": {"type": "text", "style": "sup", "text": "ΔIEC", "color": "black"}, "encoding": {"x": {"datum": 2.476, "type": "quantitative"}, "y": {"datum": 5.94, "type": "quantitative"}}},
    {"mark": {"type": "point", "filled": true, "size": 60, "color": "#2E3192"}, "encoding": {"x": {"datum": 3.589, "type": "quantitative"}, "y": {"datum": 6.16, "type": "quantitative"}}},
    {"mark": {"type": "point", "filled": false, "size": 40, "strokeWidth": 2, "color": "#2E3192"}, "encoding": {"x": {"datum": 3.589, "type": "quantitative"}, "y": {"datum": 5.74, "type": "quantitative"}}},
    {"mark": {"type": "text", "style": "lgb", "text": "+ ATB", "color": "#2E3192"}, "encoding": {"x": {"datum": 3.752, "type": "quantitative"}, "y": {"datum": 5.74, "type": "quantitative"}}},
    {"mark": {"type": "rule", "color": "black", "strokeWidth": 1.5}, "encoding": {"x": {"datum": 1.01, "type": "quantitative"}, "x2": {"datum": 2.01}, "y": {"datum": -0.418, "type": "quantitative"}}},
    {"mark": {"type": "rule", "color": "black", "strokeWidth": 1.5}, "encoding": {"x": {"datum": 2.999, "type": "quantitative"}, "x2": {"datum": 4.0}, "y": {"datum": -0.418, "type": "quantitative"}}},
    {"mark": {"type": "text", "style": "gl", "text": "No ATB", "color": "black"}, "encoding": {"x": {"datum": 1.505, "type": "quantitative"}, "y": {"datum": -0.91, "type": "quantitative"}}},
    {"mark": {"type": "text", "style": "gl", "text": "+ ATB", "color": "#2E3192"}, "encoding": {"x": {"datum": 3.492, "type": "quantitative"}, "y": {"datum": -0.91, "type": "quantitative"}}}
   ]}
 ]}
]
}
